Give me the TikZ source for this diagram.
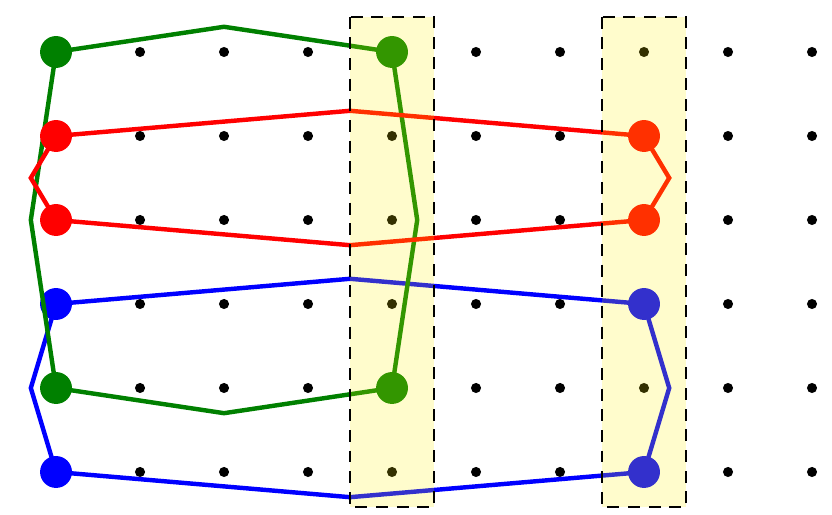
\documentclass[tikz,border=0pt]{standalone}
\usetikzlibrary{calc}
\begin{document}
\begin{tikzpicture}[
  griddot/.style = {circle, fill = black, inner sep = 0pt, minimum size = 0.12cm},
  bigdot/.style = {circle, inner sep = 0pt, minimum size = 0.38cm},
  loopline/.style = {line width = 1.5pt, line join = miter},
  band/.style = {draw, dash pattern = on 4pt off 3pt, line width = 0.6pt, fill = yellow, fill opacity = 0.2}
]
\useasboundingbox (-0.667, 0.619) rectangle (9.238, -5.512);

% grid of points
\foreach \i in {0,...,9}
  \foreach \j in {0,...,5}
    \node[griddot] (p-\i-\j) at (\i, -\j) {};

% blue loop
\node[bigdot, fill = blue] (b1) at (p-0-3) {};
\node[bigdot, fill = blue] (b2) at (p-7-3) {};
\node[bigdot, fill = blue] (b3) at (p-7-5) {};
\node[bigdot, fill = blue] (b4) at (p-0-5) {};
\draw[loopline, blue] (b1.center) -- ($(p-3-3)+(0.5,0.3)$) -- (b2.center)
  -- ($(p-7-4)+(0.3,0)$) -- (b3.center) -- ($(p-3-5)+(0.5,-0.3)$)
  -- (b4.center) -- ($(p-0-4)+(-0.3,0)$) -- cycle;

% green loop
\node[bigdot, fill = green!50!black] (g1) at (p-0-0) {};
\node[bigdot, fill = green!50!black] (g2) at (p-4-0) {};
\node[bigdot, fill = green!50!black] (g3) at (p-4-4) {};
\node[bigdot, fill = green!50!black] (g4) at (p-0-4) {};
\draw[loopline, green!50!black] (g1.center) -- ($(p-2-0)+(0,0.3)$) -- (g2.center)
  -- ($(p-4-2)+(0.3,0)$) -- (g3.center) -- ($(p-2-4)+(0,-0.3)$)
  -- (g4.center) -- ($(p-0-2)+(-0.3,0)$) -- cycle;

% red loop
\node[bigdot, fill = red] (r1) at (p-0-1) {};
\node[bigdot, fill = red] (r2) at (p-7-1) {};
\node[bigdot, fill = red] (r3) at (p-7-2) {};
\node[bigdot, fill = red] (r4) at (p-0-2) {};
\draw[loopline, red] (r1.center) -- ($(p-3-1)+(0.5,0.3)$) -- (r2.center)
  -- ($(p-7-1)+(0.3,-0.5)$) -- (r3.center) -- ($(p-3-2)+(0.5,-0.3)$)
  -- (r4.center) -- ($(p-0-1)+(-0.3,-0.5)$) -- cycle;

% highlighted columns
\draw[band] ($(p-4-0)+(-0.5,0.42)$) rectangle ($(p-4-5)+(0.5,-0.42)$);
\draw[band] ($(p-7-0)+(-0.5,0.42)$) rectangle ($(p-7-5)+(0.5,-0.42)$);
\end{tikzpicture}
\end{document}
